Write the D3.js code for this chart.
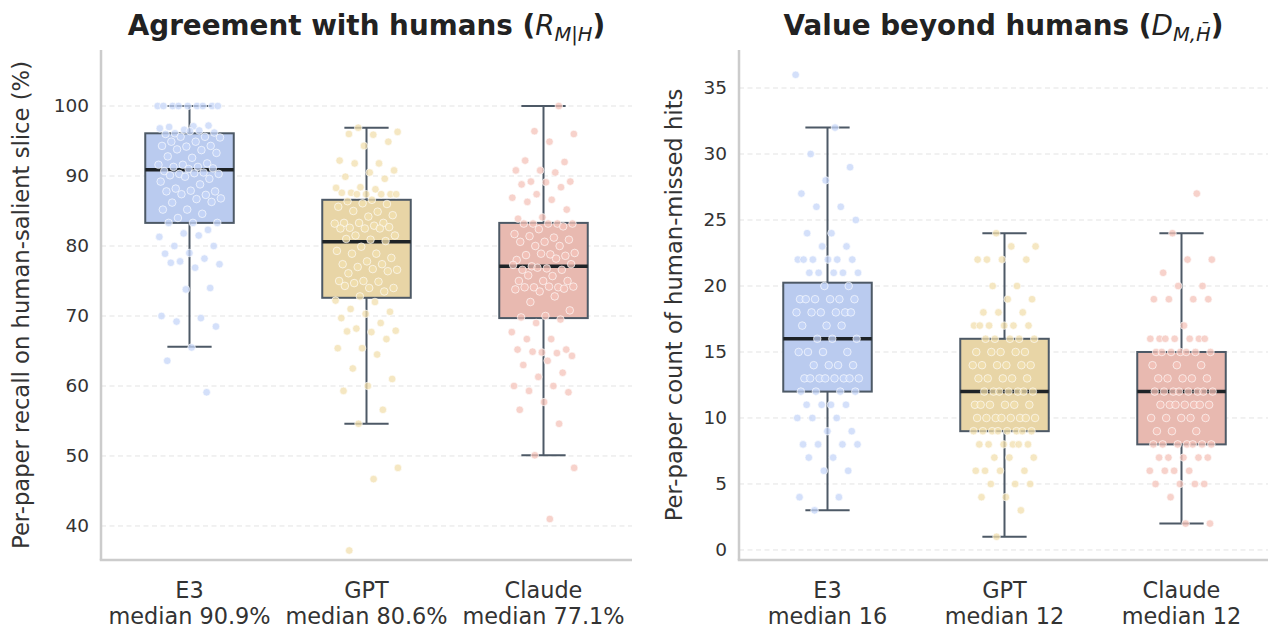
<!DOCTYPE html>
<html><head><meta charset="utf-8">
<script src="https://cdn.jsdelivr.net/npm/d3@7"></script>
<style>body{margin:0;background:#fff}svg{display:block}</style>
</head><body><svg id="c" width="1268" height="628"></svg>
<script>
// ---------- DATA ----------
const categories = ["E3", "GPT", "Claude"];

const recallE3 = [100,100,100,100,100,100,100,100,100,97.1,97.0,97.2,96.6,96.8,96.5,96.1,96.2,96.4,96.0,
  95.6,95.6,95.5,94.9,94.9,94.3,94.2,94.3,93.7,93.8,93.3,92.6,92.8,91.8,91.6,91.6,91.3,91.3,91.1,91.0,
  90.7,90.5,90.3,90.3,90.4,90.1,89.6,89.9,89.2,88.8,88.2,87.8,87.9,87.8,87.3,87.4,86.8,86.7,86.2,86.3,
  85.2,85.2,84.6,84.0,83.3,83.3,83.3,82.3,81.8,81.3,81.5,80.0,80.0,79.0,78.9,78.2,77.8,77.4,76.9,77.6,
  74.0,73.8,70.0,69.7,69.2,68.5,65.5,63.6,59.1];
const recallGPT = [96.9,96.3,95.9,96.0,94.9,94.3,92.2,91.8,91.8,90.8,90.5,89.9,89.6,88.4,88.3,88.1,87.6,87.4,
  87.4,87.6,87.4,87.4,87.4,86.6,86.4,86.0,86.1,85.6,84.9,85.0,84.4,84.2,83.3,83.3,83.3,83.2,82.9,82.6,82.7,
  82.5,82.5,82.5,81.5,81.5,80.9,81.0,80.7,79.9,79.3,78.9,78.9,78.3,77.8,77.4,77.4,77.0,76.6,76.7,76.1,76.4,
  75.0,75.0,74.9,74.7,74.0,74.0,74.3,73.5,72.8,72.2,72.0,71.0,70.6,70.3,69.7,69.0,68.2,67.9,67.7,67.8,66.7,
  65.4,65.4,64.5,62.5,61.0,60.0,59.3,56.6,54.6,48.3,46.7,36.5];
const recallClaude = [100,96.4,96.0,94.9,92.2,92.0,90.8,90.8,90.5,89.2,89.2,89.1,88.8,88.4,87.4,86.9,86.6,86.3,
  85.2,84.1,83.9,83.2,83.2,83.2,83.2,83.2,82.8,82.4,81.7,81.2,81.4,80.9,80.6,80.6,80.0,80.0,79.0,78.8,78.7,
  78.6,78.9,78.0,78.2,77.1,77.4,76.8,76.6,76.6,76.9,77.3,75.7,75.8,75.0,75.0,75.0,74.1,74.1,74.2,74.2,74.1,
  73.9,73.5,73.8,72.8,72.0,70.8,70.0,69.8,69.5,69.0,67.7,66.7,66.7,65.2,64.8,65.2,64.7,64.9,64.3,63.6,63.0,
  61.9,61.3,60.0,60.0,59.3,59.1,57.7,56.6,54.6,50.1,48.3,41.0];

const countE3 = [36,32,30,29,28,27,26,26,25,24,24,23,23,22,22,22,22,22,22,21,21,21,21,21,20,20,
  19,19,19,19,19,19,18,18,18,18,18,18,17,17,17,16,16,16,15,15,15,15,14,14,14,14,
  13,13,13,13,13,13,13,13,12,12,12,12,11,11,11,11,10,10,10,9,9,8,8,8,8,7,7,6,6,4,4,3];
const countGPT = [24,23,23,22,22,22,22,20,20,19,19,18,18,18,17,17,17,17,17,17,16,16,16,16,16,
  15,15,15,15,15,14,14,14,14,14,14,13,13,13,13,13,12,12,12,12,12,12,12,11,11,11,11,11,11,
  10,10,10,10,10,10,10,10,9,9,9,9,9,9,9,9,8,8,8,8,8,8,7,7,7,6,6,6,6,5,5,5,4,4,3,1];
const countClaude = [27,24,22,22,21,20,20,19,19,19,19,17,16,16,16,16,16,16,16,15,15,15,15,15,15,15,
  14,14,14,13,13,13,13,13,12,12,12,12,12,12,12,12,11,11,11,11,11,11,11,10,10,10,10,10,9,9,9,
  8,8,8,8,8,8,8,7,7,7,7,7,6,6,6,6,5,5,5,5,4,2,2];

// box statistics
const recallQ1 = [83.3, 72.6, 69.7];
const recallMedian = [90.9, 80.6, 77.1];
const recallQ3 = [96.1, 86.6, 83.3];
const recallWhiskerLow = [65.6, 54.6, 50.1];
const recallWhiskerHigh = [100, 96.9, 100];

const countQ1 = [12, 9, 8];
const countMedian = [16, 12, 12];
const countQ3 = [20.25, 16, 15];
const countWhiskerLow = [3, 1, 2];
const countWhiskerHigh = [32, 24, 24];

const recallTicks = [40, 50, 60, 70, 80, 90, 100];
const countTicks = [0, 5, 10, 15, 20, 25, 30, 35];

// ---------- STYLE ----------
const boxFill = ["#bacbef", "#e8d5a6", "#e8b9b0"];
const pointFill = ["#c6d6f8", "#f2dfae", "#f4c3ba"];
const FONT = "DejaVu Sans, sans-serif";

const svg = d3.select("#c");
svg.append("rect").attr("width", 1268).attr("height", 628).attr("fill", "#fff");

const panels = [
  { x0: 101, x1: 632, domain: [35.14, 108], ticks: recallTicks,
    series: [recallE3, recallGPT, recallClaude],
    q1: recallQ1, med: recallMedian, q3: recallQ3, wl: recallWhiskerLow, wh: recallWhiskerHigh,
    medFmt: v => "median " + v.toFixed(1) + "%",
    title: ["Agreement with humans (", "R", "M|H", ")"],
    ylabel: "Per-paper recall on human-salient slice (%)", ylabelX: 21 },
  { x0: 739, x1: 1270, domain: [-0.76, 37.88], ticks: countTicks,
    series: [countE3, countGPT, countClaude],
    q1: countQ1, med: countMedian, q3: countQ3, wl: countWhiskerLow, wh: countWhiskerHigh,
    medFmt: v => "median " + v,
    title: ["Value beyond humans (", "D", "M,H\u0304", ")"],
    ylabel: "Per-paper count of human-missed hits", ylabelX: 674 }
];

const yTop = 50, yBot = 560;

panels.forEach(p => {
  const x = d3.scaleBand().domain(categories).range([p.x0, p.x1]).padding(0);
  const y = d3.scaleLinear().domain(p.domain).range([yBot, yTop]);
  const g = svg.append("g");
  const bw = x.bandwidth();

  // grid
  g.append("g").selectAll("line").data(p.ticks).join("line")
    .attr("x1", p.x0).attr("x2", Math.min(p.x1, 1268))
    .attr("y1", d => y(d)).attr("y2", d => y(d))
    .attr("stroke", "#e3e3e3").attr("stroke-width", 1).attr("stroke-dasharray", "5,3.5");

  // y axis
  const ya = g.append("g").attr("transform", `translate(${p.x0},0)`)
    .call(d3.axisLeft(y).tickValues(p.ticks).tickSize(0).tickPadding(12));
  ya.select(".domain").remove();
  ya.selectAll("text").attr("font-family", FONT).attr("font-size", 18.5).attr("fill", "#333");

  // x axis labels
  const xa = g.append("g").attr("transform", `translate(0,${yBot})`)
    .call(d3.axisBottom(x).tickSize(0).tickPadding(0).tickFormat(""));
  xa.select(".domain").remove();
  categories.forEach((c, i) => {
    const t = g.append("text").attr("x", x(c) + bw / 2).attr("y", 598)
      .attr("text-anchor", "middle").attr("font-family", FONT).attr("font-size", 22.4).attr("fill", "#333");
    t.append("tspan").attr("x", x(c) + bw / 2).attr("dy", 0).text(c);
    t.append("tspan").attr("x", x(c) + bw / 2).attr("dy", 26).text(p.medFmt(p.med[i]));
  });

  // spines
  g.append("line").attr("x1", p.x0).attr("x2", p.x0).attr("y1", yTop).attr("y2", yBot)
    .attr("stroke", "#cccccc").attr("stroke-width", 2.5);
  g.append("line").attr("x1", p.x0 - 1.25).attr("x2", Math.min(p.x1, 1268)).attr("y1", yBot).attr("y2", yBot)
    .attr("stroke", "#cccccc").attr("stroke-width", 2.5);

  // boxes
  categories.forEach((c, i) => {
    const cx = x(c) + bw / 2;
    const half = bw * 0.25, cap = bw * 0.125;
    const edge = "#4d5966";
    g.append("line").attr("x1", cx).attr("x2", cx).attr("y1", y(p.q3[i])).attr("y2", y(p.wh[i]))
      .attr("stroke", edge).attr("stroke-width", 2);
    g.append("line").attr("x1", cx).attr("x2", cx).attr("y1", y(p.q1[i])).attr("y2", y(p.wl[i]))
      .attr("stroke", edge).attr("stroke-width", 2);
    g.append("line").attr("x1", cx - cap).attr("x2", cx + cap).attr("y1", y(p.wh[i])).attr("y2", y(p.wh[i]))
      .attr("stroke", edge).attr("stroke-width", 2);
    g.append("line").attr("x1", cx - cap).attr("x2", cx + cap).attr("y1", y(p.wl[i])).attr("y2", y(p.wl[i]))
      .attr("stroke", edge).attr("stroke-width", 2);
    g.append("rect").attr("x", cx - half).attr("width", 2 * half)
      .attr("y", y(p.q3[i])).attr("height", y(p.q1[i]) - y(p.q3[i]))
      .attr("fill", boxFill[i]).attr("stroke", edge).attr("stroke-width", 2);
    g.append("line").attr("x1", cx - half).attr("x2", cx + half).attr("y1", y(p.med[i])).attr("y2", y(p.med[i]))
      .attr("stroke", "#1e2327").attr("stroke-width", 3.5);

    // jittered points (deterministic jitter)
    const jit = bw * 0.18;
    g.append("g").selectAll("circle").data(p.series[i]).join("circle")
      .attr("cx", (d, k) => cx + (((k * 0.618034 + i * 0.37) % 1) * 2 - 1) * jit)
      .attr("cy", d => y(d)).attr("r", 3.8)
      .attr("fill", pointFill[i]).attr("fill-opacity", 0.75)
      .attr("stroke", "#ffffff").attr("stroke-opacity", 0.8).attr("stroke-width", 0.8);
  });

  // title
  const tcx = (p.x0 + Math.min(p.x1, 1268)) / 2;
  const t = svg.append("text").attr("x", tcx).attr("y", 35).attr("text-anchor", "middle")
    .attr("font-family", FONT).attr("font-size", 27.8).attr("font-weight", "bold").attr("fill", "#222");
  t.append("tspan").text(p.title[0]);
  t.append("tspan").attr("font-style", "italic").attr("font-weight", "normal").text(p.title[1]);
  t.append("tspan").attr("font-style", "italic").attr("font-weight", "normal").attr("font-size", 19.5)
    .attr("dy", 6).text(p.title[2]);
  t.append("tspan").attr("dy", -6).text(p.title[3]);

  // y label
  svg.append("text").attr("transform", `translate(${p.ylabelX},${(yTop + yBot) / 2}) rotate(-90)`)
    .attr("text-anchor", "middle").attr("dy", "0.35em")
    .attr("font-family", FONT).attr("font-size", 22.7).attr("fill", "#333").text(p.ylabel);
});
</script></body></html>
